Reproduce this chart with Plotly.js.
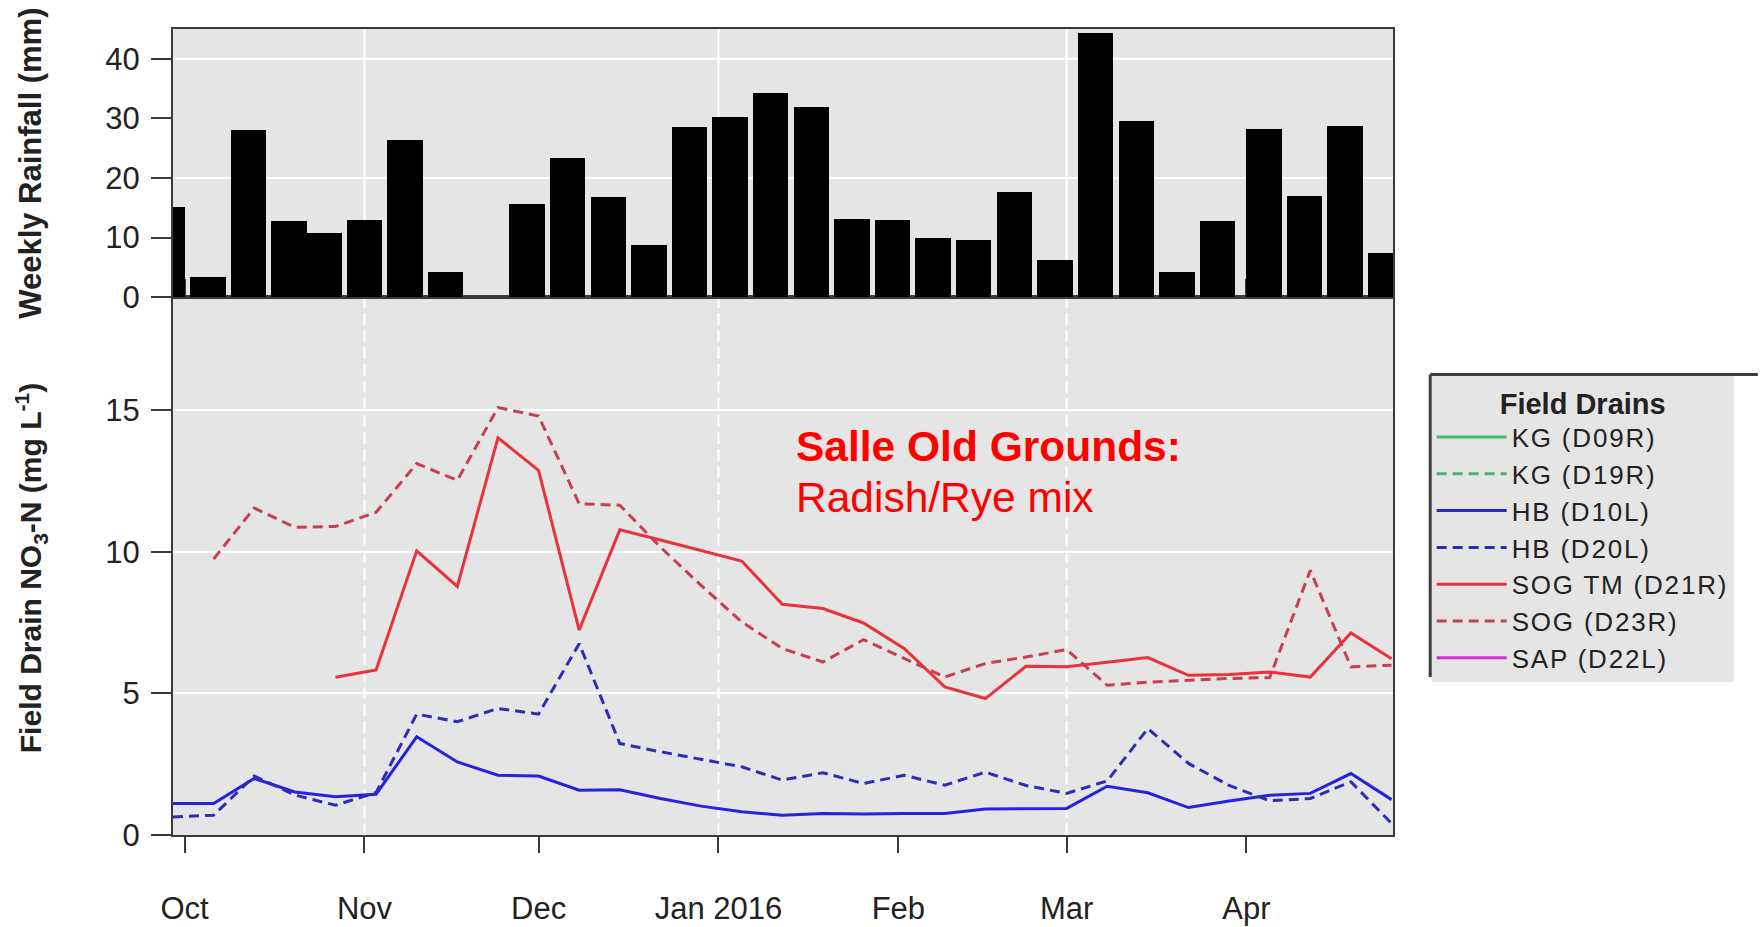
<!DOCTYPE html>
<html><head><meta charset="utf-8">
<script src="https://cdn.plot.ly/plotly-3.0.1.min.js"></script>
<style>html,body{margin:0;padding:0;background:#fff}#chart{width:1761px;height:927px}
.legendtext{letter-spacing:1.8px !important;}</style>
</head><body><div id="chart"></div>
<script>
// Weekly rainfall (bar centre dates and mm)
const rainDates = ['2015-09-28','2015-10-05','2015-10-12','2015-10-19','2015-10-25','2015-11-01','2015-11-08','2015-11-15','2015-11-22','2015-11-29','2015-12-06','2015-12-13','2015-12-20','2015-12-27','2016-01-03','2016-01-10','2016-01-17','2016-01-24','2016-01-31','2016-02-07','2016-02-14','2016-02-21','2016-02-28','2016-03-06','2016-03-13','2016-03-20','2016-03-27','2016-04-04','2016-04-11','2016-04-18','2016-04-25'];
const rainMm = [15.1,3.4,28.0,12.7,10.8,13.0,26.4,4.2,0,15.7,23.4,16.8,8.8,28.5,30.3,34.2,31.9,13.2,13.0,10.0,9.6,17.6,6.2,44.4,29.6,4.2,12.8,28.2,16.9,28.8,7.4];

// Field drain NO3-N sampling dates
const sampleDates = ['2015-09-29','2015-10-06','2015-10-13','2015-10-20','2015-10-27','2015-11-03','2015-11-10','2015-11-17','2015-11-24','2015-12-01','2015-12-08','2015-12-15','2015-12-22','2015-12-29','2016-01-05','2016-01-12','2016-01-19','2016-01-26','2016-02-02','2016-02-09','2016-02-16','2016-02-23','2016-03-01','2016-03-08','2016-03-15','2016-03-22','2016-03-29','2016-04-05','2016-04-12','2016-04-19','2016-04-26'];
const hbD10L = [1.11,1.11,2.0,1.52,1.35,1.44,3.47,2.58,2.11,2.08,1.58,1.6,1.29,1.02,0.82,0.70,0.76,0.74,0.76,0.76,0.92,0.93,0.94,1.72,1.49,0.97,1.2,1.4,1.47,2.17,1.25];
const hbD20L = [0.64,0.7,2.08,1.41,1.05,1.5,4.27,4.0,4.47,4.27,6.76,3.23,2.94,2.67,2.41,1.94,2.2,1.82,2.11,1.76,2.22,1.75,1.47,1.91,3.76,2.53,1.75,1.21,1.29,1.88,0.41];
const sogTmD21R = [null,null,null,null,5.57,5.83,10.04,8.78,14.03,12.88,7.24,10.78,10.42,10.05,9.68,8.15,8.0,7.49,6.59,5.23,4.82,5.96,5.94,6.1,6.27,5.64,5.67,5.76,5.58,7.14,6.23];
const sogD23R = [null,9.75,11.55,10.87,10.9,11.4,13.12,12.53,15.1,14.8,11.7,11.65,10.17,8.82,7.53,6.59,6.11,6.9,6.23,5.58,6.06,6.29,6.55,5.29,5.4,5.47,5.53,5.56,9.35,5.94,6.0];
// drains listed in the legend with no data shown
const kgD09R = [null];
const kgD19R = [null];
const sapD22L = [null];

const monthTickDates = ['2015-10-01','2015-11-01','2015-12-01','2016-01-01','2016-02-01','2016-03-01','2016-04-01'];
const monthTickLabels = ['Oct','Nov','Dec','Jan 2016','Feb','Mar','Apr'];
const gridDates = ['2015-11-01','2016-01-01','2016-03-01'];
const rainTicks = [0,10,20,30,40];
const rainGrid = [20,40];
const no3Ticks = [0,5,10,15];

const FONT = 'Liberation Sans, Arial, sans-serif';
const DAY = 86400000;
const AX = '#3a3a3a';
const LW = 3;

const traces = [
  {type:'bar', x: rainDates, y: rainMm, xaxis:'x', yaxis:'y2', width: rainDates.map(()=>6.1*DAY),
   marker:{color:'#000', line:{width:0}}, showlegend:false, hoverinfo:'x+y'},
  {type:'scatter', mode:'lines', name:'KG (D09R)', x:[null], y:kgD09R, line:{color:'#3dba6a', width:LW}},
  {type:'scatter', mode:'lines', name:'KG (D19R)', x:[null], y:kgD19R, line:{color:'#3dba6a', width:LW, dash:'10px,6px'}},
  {type:'scatter', mode:'lines', name:'HB (D10L)', x:sampleDates, y:hbD10L, line:{color:'#2424e0', width:LW}},
  {type:'scatter', mode:'lines', name:'HB (D20L)', x:sampleDates, y:hbD20L, line:{color:'#2e2eb4', width:LW, dash:'10px,6px'}},
  {type:'scatter', mode:'lines', name:'SOG TM (D21R)', x:sampleDates, y:sogTmD21R, line:{color:'#e8323c', width:LW}},
  {type:'scatter', mode:'lines', name:'SOG (D23R)', x:sampleDates, y:sogD23R, line:{color:'#c8404f', width:LW, dash:'10px,6px'}},
  {type:'scatter', mode:'lines', name:'SAP (D22L)', x:[null], y:sapD22L, line:{color:'#cc33cc', width:LW}}
];

const shapes = [];
gridDates.forEach(d => {
  shapes.push({type:'line', xref:'x', yref:'y2 domain', x0:d, x1:d, y0:0, y1:1, layer:'below', line:{color:'#ffffff', width:2}});
  shapes.push({type:'line', xref:'x', yref:'y domain', x0:d, x1:d, y0:0, y1:1, layer:'below', line:{color:'#ffffff', width:2, dash:'12px,5px'}});
});
rainGrid.forEach(v => {
  shapes.push({type:'line', xref:'x domain', yref:'y2', x0:0, x1:1, y0:v, y1:v, layer:'below', line:{color:'#ffffff', width:2}});
});
// legend frame (top and left edges, as in the reference crop)
shapes.push({type:'line', xref:'paper', yref:'paper', x0:1.0305, x1:1.299, y0:0.5714, y1:0.5714, line:{color:AX, width:3}});
shapes.push({type:'line', xref:'paper', yref:'paper', x0:1.0305, x1:1.0305, y0:0.5714, y1:0.196, line:{color:AX, width:3}});

const layout = {
  width:1761, height:927,
  margin:{l:173, r:368, t:29, b:92},
  paper_bgcolor:'#ffffff', plot_bgcolor:'#e5e5e5',
  font:{family:FONT, color:'#222', size:31},
  bargap:0,
  xaxis:{anchor:'y', type:'date', range:['2015-09-29','2016-04-26 06:00'],
    tickmode:'array', tickvals:monthTickDates, ticktext:monthTickLabels,
    ticks:'outside', ticklen:16, tickwidth:2, tickcolor:AX,
    showline:true, linecolor:AX, linewidth:2, mirror:'all',
    showgrid:false, zeroline:false, tickfont:{size:31, color:'#222'}, ticklabelstandoff:29},
  yaxis:{domain:[0,0.6673], range:[0,19], tickmode:'array', tickvals:no3Ticks,
    ticks:'outside', ticklen:20, tickwidth:2, tickcolor:AX,
    showline:true, linecolor:AX, linewidth:2, mirror:true,
    showgrid:true, gridcolor:'#ffffff', gridwidth:2, zeroline:false,
    tickfont:{size:31, color:'#222'}, ticklabelstandoff:5},
  yaxis2:{domain:[0.6673,1], anchor:'x', range:[0,45], tickmode:'array', tickvals:rainTicks,
    ticks:'outside', ticklen:20, tickwidth:2, tickcolor:AX,
    showline:true, linecolor:AX, linewidth:2, mirror:true,
    showgrid:false, zeroline:false,
    tickfont:{size:31, color:'#222'}, ticklabelstandoff:5},
  legend:{x:1.0317, xanchor:'left', y:0.5696, yanchor:'top',
    bgcolor:'#e5e5e5', borderwidth:0, itemwidth:70,
    font:{size:26, color:'#222', family:FONT}, tracegroupgap:0,
    title:{text:'<b>Field Drains</b>', side:'top center', font:{size:29, color:'#222', family:FONT}}},
  shapes: shapes,
  annotations:[
    {xref:'paper', yref:'paper', x:-0.1164, y:0.834, xanchor:'center', yanchor:'middle', textangle:-90, showarrow:false,
     text:'<b>Weekly Rainfall (mm)</b>', font:{size:31, color:'#222'}},
    {xref:'paper', yref:'paper', x:-0.1164, y:0.331, xanchor:'center', yanchor:'middle', textangle:-90, showarrow:false,
     text:'<b>Field Drain NO<sub>3</sub>-N (mg L<sup>-1</sup>)</b>', font:{size:30, color:'#222'}},
    {xref:'paper', yref:'paper', x:0.509, y:0.4815, xanchor:'left', yanchor:'middle', showarrow:false,
     text:'<b>Salle Old Grounds:</b>', font:{size:42.5, color:'#ff0000'}},
    {xref:'paper', yref:'paper', x:0.509, y:0.4188, xanchor:'left', yanchor:'middle', showarrow:false,
     text:'Radish/Rye mix', font:{size:42.5, color:'#ff0000'}}
  ]
};

Plotly.newPlot('chart', traces, layout, {displayModeBar:false, staticPlot:true});
</script>
</body></html>
